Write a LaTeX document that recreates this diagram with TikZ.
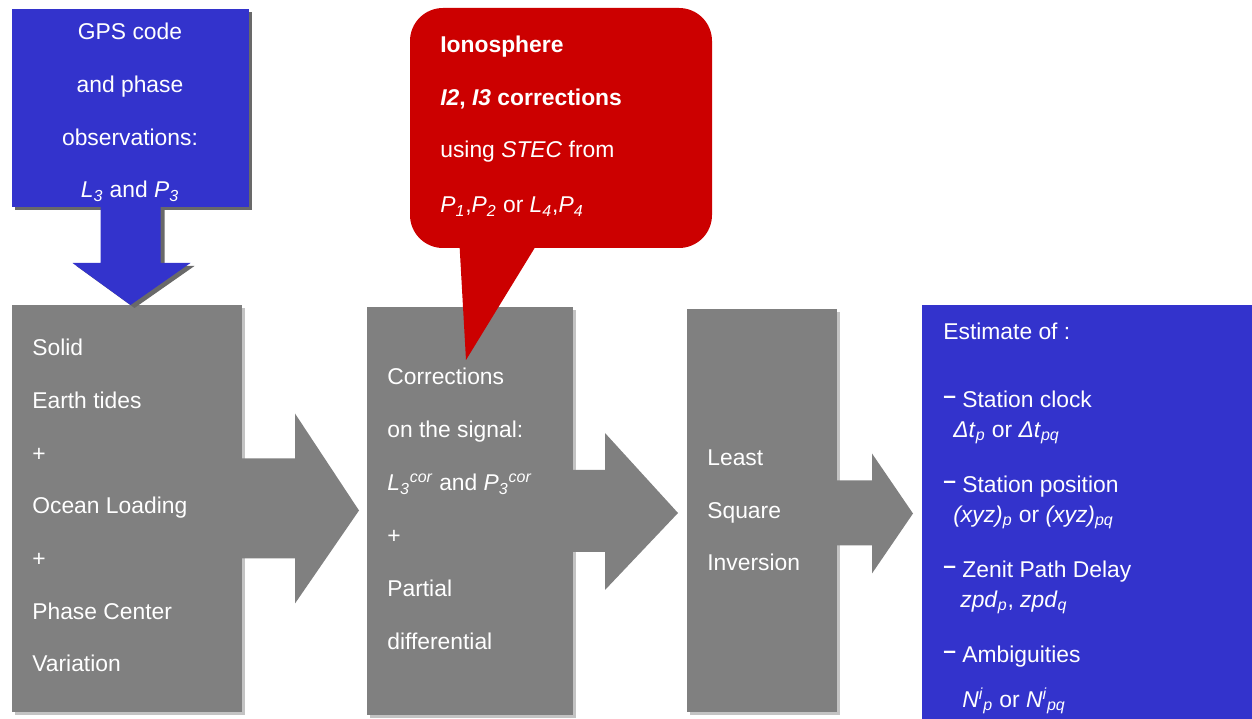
\documentclass[tikz,border=0pt]{standalone}
\usepackage{fontspec}
\setmainfont{Liberation Sans}
\usetikzlibrary{calc,fit}
\definecolor{boxblue}{RGB}{51,51,204}
\definecolor{boxred}{RGB}{204,0,0}
\definecolor{boxgray}{RGB}{128,128,128}
\definecolor{shadelight}{RGB}{195,195,195}
\definecolor{shadedark}{RGB}{105,105,105}
\newcommand\mylo[1]{\textsubscript{\itshape #1}}
\newcommand\myhi[1]{\textsuperscript{\itshape #1}}
\newcommand\mydash{\raisebox{.35ex}{\bfseries –}}
\tikzset{
  panel/.style={inner sep=0pt, outer sep=0pt, draw=none},
  txt/.style={text=white, inner sep=0pt, yshift=-1.7pt, font=\fontsize{13}{15}\selectfont},
  lbl/.style={txt, anchor=mid west},
  ctr/.style={txt, anchor=mid},
}
\begin{document}
\begin{tikzpicture}[x=0.02cm, y=-0.02cm]
\useasboundingbox (0,0) rectangle (1252,719);

% shadows
\fill[shadedark] (15,12) rectangle (252,210);
\fill[shadelight] (15,308) rectangle (245,715);
\fill[shadelight] (370,310) rectangle (576,718);
\fill[shadelight] (690,312) rectangle (840,715);

% panels
\node[panel, fill=boxblue, fit={(12,9) (249,207)}] (top) {};
\node[panel, fill=boxgray, fit={(12,305) (242,712)}] (b1) {};
\node[panel, fill=boxgray, fit={(367,307) (573,715)}] (b2) {};
\node[panel, fill=boxgray, fit={(687,309) (837,712)}] (b3) {};
\node[panel, fill=boxblue, fit={(922,305) (1252,719)}] (est) {};
\node[panel, fill=boxred, rounded corners=0.66cm, fit={(410,8) (712,248)}] (cal) {};

% down arrow from top panel to first grey panel
\fill[shadedark] ([shift={(4,3)}]top.south) ++(-30,0) -- ++(0,56) -- ++(-28,0) -- ++(58,42) -- ++(60,-42) -- ++(-30,0) -- ++(0,-56) -- cycle;
\fill[boxblue] (top.south) ++(-30,-2) -- ++(0,58) -- ++(-28,0) -- ++(58,42) -- ++(60,-42) -- ++(-30,0) -- ++(0,-58) -- cycle;

% block arrows between grey panels
\fill[boxgray] (b1.east) ++(-2,-50) -- ++(55,0) -- ++(0,-45) -- ++(64,97) -- ++(-64,93) -- ++(0,-45) -- ++(-55,0) -- cycle;
\fill[boxgray] (b2.east) ++(-2,-41) -- ++(34,0) -- ++(0,-37) -- ++(73,80) -- ++(-73,77) -- ++(0,-38) -- ++(-34,0) -- cycle;
\fill[boxgray] (b3.east) ++(-2,-30) -- ++(37,0) -- ++(0,-27) -- ++(41,60) -- ++(-41,60) -- ++(0,-28) -- ++(-37,0) -- cycle;

% callout pointer onto second grey panel
\fill[boxred] (cal.south west) ++(49,-12) -- ++(7,124) -- ++(76,-124) -- cycle;

% text: top panel
\foreach \t [count=\i] in {GPS code, and phase, observations:, {\textit{L}\mylo{3} and \textit{P}\mylo{3}}}
  \node[ctr] (tt\i) at (130, {32+52.7*(\i-1)}) {\t};

% text: callout
\node[lbl] (c1) at (440,45) {\bfseries Ionosphere};
\node[lbl] (c2) at (440,98) {\bfseries\textit{I2}, \textit{I3} corrections};
\node[lbl] (c3) at (440,150) {using \textit{STEC} from};
\node[lbl] (c4) at (440,205) {\textit{P}\mylo{1},\textit{P}\mylo{2} or \textit{L}\mylo{4},\textit{P}\mylo{4}};

% text: grey panels
\foreach \t [count=\i] in {Solid, Earth tides, +, Ocean Loading, +, Phase Center, Variation}
  \node[lbl] (ga\i) at (32, {348+52.7*(\i-1)}) {\t};
\foreach \t [count=\i] in {Corrections, on the signal:, {\textit{L}\mylo{3}\myhi{cor} and \textit{P}\mylo{3}\myhi{cor}}, +, Partial, differential}
  \node[lbl] (gb\i) at (387, {377+53*(\i-1)}) {\t};
\foreach \t [count=\i] in {Least, Square, Inversion}
  \node[lbl] (gc\i) at (707, {458+52.5*(\i-1)}) {\t};

% text: estimate panel
\node[lbl] (e0) at (943,332) {Estimate of :};
\node[lbl] (e1) at (943,400) {\mydash\ Station clock};
\node[lbl] (e1b) at (953,430) {\textit{Δt}\mylo{p} or \textit{Δt}\mylo{pq}};
\node[lbl] (e2) at (943,485) {\mydash\ Station position};
\node[lbl] (e2b) at (953,515) {\textit{(xyz)}\mylo{p} or \textit{(xyz)}\mylo{pq}};
\node[lbl] (e3) at (943,570) {\mydash\ Zenit Path Delay};
\node[lbl] (e3b) at (960,600) {\textit{zpd}\mylo{p}, \textit{zpd}\mylo{q}};
\node[lbl] (e4) at (943,655) {\mydash\ Ambiguities};
\node[lbl] (e4b) at (962,700) {\textit{N}\myhi{i}\mylo{p} or \textit{N}\myhi{i}\mylo{pq}};
\end{tikzpicture}
\end{document}
